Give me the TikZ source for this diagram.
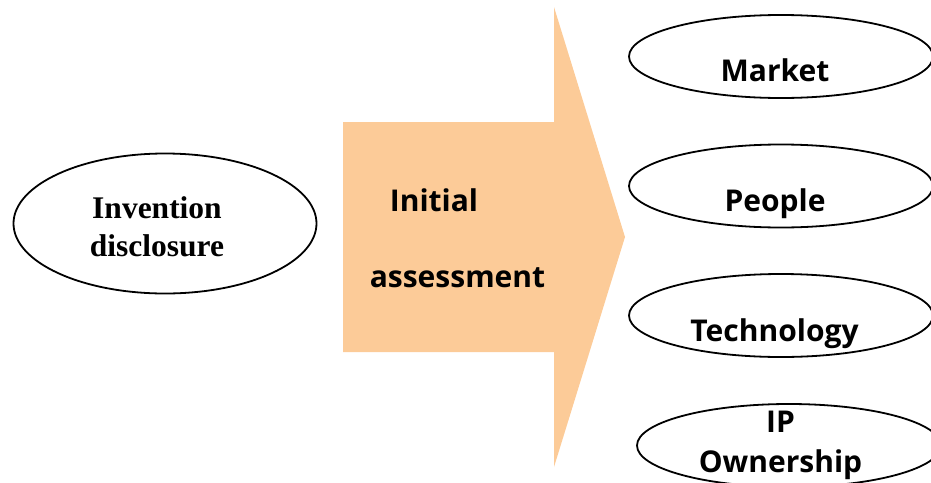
\documentclass[tikz,border=0pt]{standalone}
\usepackage{fontspec}
\usetikzlibrary{shapes.geometric}
\newfontfamily\sansfnt{Open Sans}
\newfontfamily\seriffnt{Liberation Serif}
\definecolor{peach}{RGB}{252,203,152}
\tikzset{
  oval/.style={draw=black, line width=1.8pt, ellipse, inner sep=0pt, minimum width=304pt, minimum height=83pt},
  sanslbl/.style={anchor=base, inner sep=0pt, font=\sansfnt\bfseries\fontsize{30}{35}\selectfont},
  seriflbl/.style={anchor=base, inner sep=0pt, font=\seriffnt\bfseries\fontsize{31.5}{36}\selectfont},
}
\begin{document}
\begin{tikzpicture}[x=1pt, y=-1pt]
\useasboundingbox (0,0) rectangle (931,482);
% arrow
\fill[peach] (343,122) -- (554,122) -- (554,7) -- (625,237) -- (554,467) -- (554,352) -- (343,352) -- cycle;
\node[sanslbl] (init) at (434,211) {Initial};
\node[sanslbl] (assess) at (457.5,287) {assessment};
% left ellipse
\node[oval, minimum width=303pt, minimum height=140pt] (inv) at (165,223.5) {};
\node[seriflbl] (invT) at (157,218) {Invention};
\node[seriflbl] (discT) at (157,256) {disclosure};
% right ellipses
\node[oval] (market) at (781,56.5) {};
\node[oval] (people) at (781,186) {};
\node[oval] (tech) at (781,315.5) {};
\node[oval] (ip) at (789,445.5) {};
\node[sanslbl] (marketT) at (775,81) {Market};
\node[sanslbl] (peopleT) at (775,211) {People};
\node[sanslbl] (techT) at (774.5,341) {Technology};
\node[sanslbl] (ipT) at (780.5,432) {IP};
\node[sanslbl] (ownT) at (780.5,472) {Ownership};
\end{tikzpicture}
\end{document}
